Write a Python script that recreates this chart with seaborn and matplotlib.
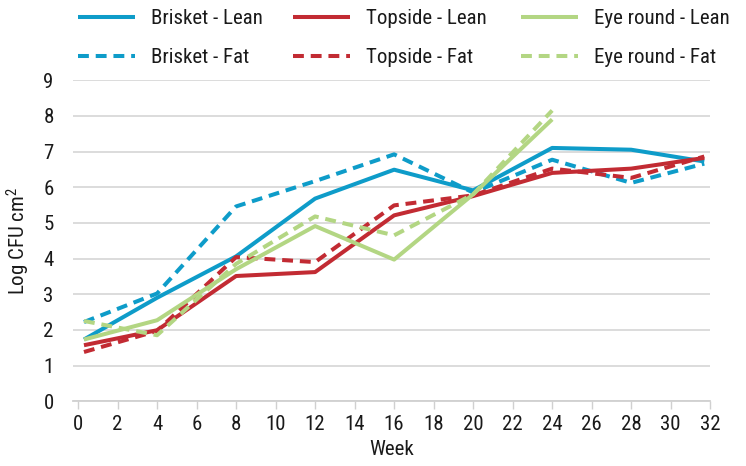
import matplotlib
matplotlib.use("Agg")
import matplotlib.pyplot as plt
import seaborn as sns
import pandas as pd
from matplotlib import font_manager

# ---- data ----
weeks = [0.3, 4, 8, 12, 16, 20, 24, 28, 31.7]
weeks_eye = weeks[:7]
brisket_lean = [1.73, 2.90, 4.06, 5.68, 6.49, 5.91, 7.10, 7.05, 6.72]
brisket_fat = [2.22, 3.02, 5.46, 6.17, 6.92, 5.85, 6.77, 6.12, 6.66]
topside_lean = [1.57, 1.99, 3.51, 3.62, 5.21, 5.75, 6.40, 6.52, 6.82]
topside_fat = [1.38, 1.97, 4.04, 3.90, 5.49, 5.77, 6.52, 6.26, 6.86]
eye_lean = [1.73, 2.27, 3.70, 4.91, 3.97, 5.80, 7.90]
eye_fat = [2.25, 1.85, 3.85, 5.18, 4.65, 5.80, 8.15]

x_ticks = list(range(0, 33, 2))
y_ticks = list(range(0, 10))

BLUE = "#0E9CC9"
RED = "#C22B33"
GREEN = "#B3D683"

series = [
    ("Brisket - Lean", weeks, brisket_lean, BLUE, False),
    ("Brisket - Fat", weeks, brisket_fat, BLUE, True),
    ("Topside - Lean", weeks, topside_lean, RED, False),
    ("Topside - Fat", weeks, topside_fat, RED, True),
    ("Eye round - Lean", weeks_eye, eye_lean, GREEN, False),
    ("Eye round - Fat", weeks_eye, eye_fat, GREEN, True),
]

sns.set_theme(style="white")

# the reference uses a condensed grotesque; pick a narrow face if one exists
fam, stretch, fs = "Liberation Sans", "normal", 13
narrow = [f for f in font_manager.fontManager.ttflist
          if f.style == "normal" and f.weight in (400, "normal", "regular")
          and ("Narrow" in f.name or "Condensed" in f.name
               or str(f.stretch) in ("condensed", "semi-condensed", "extra-condensed"))]
for pref in ["Liberation Sans Narrow", "Roboto Condensed", "Roboto", "Noto Sans",
             "Open Sans", "DejaVu Sans"]:
    hit = [f for f in narrow if f.name.startswith(pref)]
    if hit:
        fam, stretch, fs = hit[0].name, hit[0].stretch, 15
        break
plt.rcParams["font.family"] = [fam, "DejaVu Sans"]
plt.rcParams["font.stretch"] = stretch
plt.rcParams["mathtext.default"] = "regular"
TXT = "#1a1a1a"

fig = plt.figure(figsize=(7.46, 4.66), dpi=100)
ax = fig.add_axes([0.098, 0.139, 0.854, 0.689])

for name, xs, ys, color, dashed in series:
    df = pd.DataFrame({"Week": xs, "val": ys})
    sns.lineplot(data=df, x="Week", y="val", ax=ax, color=color, linewidth=2.9,
                 label=name, legend=False)
    line = ax.lines[-1]
    if dashed:
        line.set_dashes((2.7, 1.7))
    line.set_solid_capstyle("butt")
    line.set_dash_capstyle("butt")

ax.set_xlim(-0.25, 32)
ax.set_ylim(0, 9)
ax.set_xticks(x_ticks)
ax.set_yticks(y_ticks)
ax.yaxis.grid(True, color="#d9d9d9", linewidth=1.3)
ax.set_axisbelow(True)
for s in ["top", "right", "left"]:
    ax.spines[s].set_visible(False)
ax.spines["bottom"].set_color("#d0d0d0")
ax.spines["bottom"].set_linewidth(1.3)
ax.tick_params(axis="x", bottom=True, length=6, width=1.0, color="#d0d0d0",
               labelsize=fs, labelcolor=TXT, pad=4)
ax.tick_params(axis="y", left=False, labelsize=fs, labelcolor=TXT, pad=8)
ax.set_xlabel("Week", fontsize=fs, color=TXT, labelpad=4)
ax.set_ylabel("Log CFU cm$^2$", fontsize=fs, color=TXT, labelpad=8)

# legend: one column per cut, pinned at the reference x positions
handles, labels = ax.get_legend_handles_labels()
col_x = [78, 293, 521]
for i, x0 in enumerate(col_x):
    fig.legend(handles[2 * i:2 * i + 2], labels[2 * i:2 * i + 2],
               loc="upper left", bbox_to_anchor=(x0 / 746, 0.981),
               frameon=False, fontsize=fs, borderpad=0, borderaxespad=0,
               handlelength=2.75, handletextpad=0.75, labelspacing=0.97,
               labelcolor=TXT)

fig.savefig("out.png", dpi=100)
